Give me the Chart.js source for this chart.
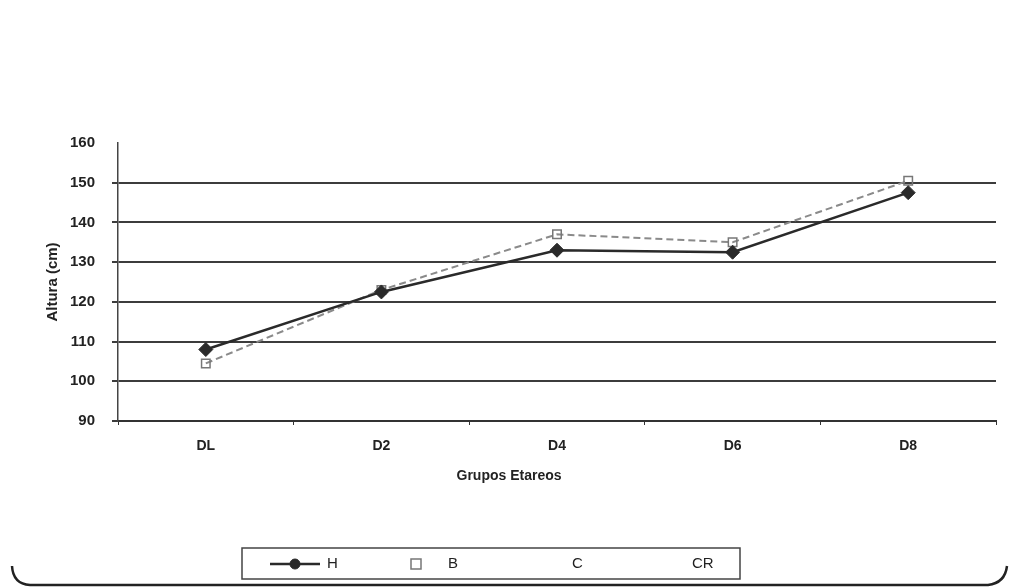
<!DOCTYPE html>
<html>
<head>
<meta charset="utf-8">
<script src="https://cdn.jsdelivr.net/npm/chart.js@4"></script>
<style>
  html, body { margin: 0; padding: 0; background: #ffffff; }
  #wrap { width: 1010px; height: 587px; position: relative; }
</style>
</head>
<body>
<div id="wrap"><canvas id="c" width="1010" height="587"></canvas></div>
<script>
// ---- data ----
const categories = ['DL', 'D2', 'D4', 'D6', 'D8'];
const seriesH = [108, 122.5, 133, 132.5, 147.5];
const seriesB = [104.5, 123, 137, 135, 150.5];
const seriesC = [];
const seriesCR = [];
const seriesLabels = ['H', 'B', 'C', 'CR'];
const yTicks = [90, 100, 110, 120, 130, 140, 150, 160];
const yTitle = 'Altura (cm)';
const xTitle = 'Grupos Etareos';

const FONT = '"Liberation Sans", Arial, sans-serif';

const frame = {
  id: 'frame',
  afterDraw(chart) {
    const ctx = chart.ctx;
    ctx.save();
    ctx.strokeStyle = '#222';
    ctx.lineWidth = 2.5;
    ctx.beginPath();
    ctx.moveTo(12, 566);
    ctx.quadraticCurveTo(13, 584, 30, 585);
    ctx.lineTo(988, 585);
    ctx.quadraticCurveTo(1005, 583, 1007, 566);
    ctx.stroke();
    ctx.restore();
  }
};

const xTitlePlugin = {
  id: 'xTitlePlugin',
  afterDraw(chart) {
    const ctx = chart.ctx;
    ctx.save();
    ctx.font = 'bold 14px ' + FONT;
    ctx.fillStyle = '#222';
    ctx.textAlign = 'center';
    ctx.textBaseline = 'middle';
    ctx.fillText(xTitle, 509, 476);
    ctx.restore();
  }
};

const legendBox = {
  id: 'legendBox',
  afterDraw(chart) {
    const ctx = chart.ctx;
    ctx.save();
    ctx.strokeStyle = '#444';
    ctx.lineWidth = 1.5;
    ctx.strokeRect(242, 548, 498, 31);
    const textX = [327, 448, 572, 692];
    const cy = 564;
    chart.data.datasets.forEach((ds, i) => {
      const tx = textX[i];
      const sx0 = tx - 57, sx1 = tx - 7, mx = (sx0 + sx1) / 2;
      if (ds.showLegendLine) {
        ctx.strokeStyle = ds.borderColor;
        ctx.lineWidth = ds.borderWidth;
        ctx.setLineDash(ds.borderDash || []);
        ctx.beginPath();
        ctx.moveTo(sx0, cy);
        ctx.lineTo(sx1, cy);
        ctx.stroke();
        ctx.setLineDash([]);
      }
      if (ds.showLegendMarker) {
        ctx.fillStyle = ds.pointBackgroundColor;
        ctx.strokeStyle = ds.pointBorderColor;
        ctx.lineWidth = ds.pointBorderWidth;
        ctx.beginPath();
        if (ds.pointStyle === 'rectRot') {
          ctx.arc(mx, cy, 5, 0, Math.PI * 2);
        } else {
          ctx.rect(mx - 5, cy - 5, 10, 10);
        }
        ctx.fill();
        ctx.stroke();
      }
      ctx.font = '15px ' + FONT;
      ctx.fillStyle = '#222';
      ctx.textAlign = 'left';
      ctx.textBaseline = 'middle';
      ctx.fillText(ds.label, tx, cy);
    });
    ctx.restore();
  }
};

new Chart(document.getElementById('c'), {
  type: 'line',
  data: {
    labels: categories,
    datasets: [
      {
        label: seriesLabels[0], data: seriesH,
        borderColor: '#2a2a2a', borderWidth: 2.5,
        pointStyle: 'rectRot', pointRadius: 7,
        pointBackgroundColor: '#2a2a2a', pointBorderColor: '#2a2a2a', pointBorderWidth: 1,
        showLegendLine: true, showLegendMarker: true
      },
      {
        label: seriesLabels[1], data: seriesB,
        borderColor: '#8a8a8a', borderWidth: 2, borderDash: [7, 4],
        pointStyle: 'rect', pointRadius: 6,
        pointBackgroundColor: 'rgba(255,255,255,0)', pointBorderColor: '#777', pointBorderWidth: 1.5,
        showLegendLine: false, showLegendMarker: true
      },
      {
        label: seriesLabels[2], data: seriesC,
        borderColor: 'rgba(0,0,0,0)', borderWidth: 1, pointRadius: 0,
        pointBackgroundColor: 'rgba(0,0,0,0)', pointBorderColor: 'rgba(0,0,0,0)', pointBorderWidth: 0,
        showLegendLine: false, showLegendMarker: false
      },
      {
        label: seriesLabels[3], data: seriesCR,
        borderColor: 'rgba(0,0,0,0)', borderWidth: 1, pointRadius: 0,
        pointBackgroundColor: 'rgba(0,0,0,0)', pointBorderColor: 'rgba(0,0,0,0)', pointBorderWidth: 0,
        showLegendLine: false, showLegendMarker: false
      }
    ]
  },
  options: {
    responsive: false,
    animation: false,
    devicePixelRatio: 1,
    layout: { padding: { left: 40, right: 14, top: 143, bottom: 100 } },
    plugins: {
      legend: { display: false },
      tooltip: { enabled: false },
      title: { display: false }
    },
    elements: { line: { tension: 0 } },
    scales: {
      x: {
        type: 'category',
        offset: true,
        grid: { display: true, drawOnChartArea: false, drawTicks: true, tickLength: 4, offset: true, color: '#333', lineWidth: 1 },
        border: { display: true, color: '#333', width: 2 },
        ticks: { color: '#222', font: { family: FONT, size: 14, weight: 'bold' }, padding: 13 },
        afterFit(scale) { scale.height = 66; }
      },
      y: {
        min: yTicks[0], max: yTicks[yTicks.length - 1],
        afterBuildTicks(scale) { scale.ticks = yTicks.map(v => ({ value: v })); },
        grid: {
          color: ctx => (ctx.tick && ctx.tick.value === 160) ? 'rgba(0,0,0,0)' : '#3c3c3c',
          lineWidth: 2, tickLength: 6, drawTicks: true
        },
        border: { display: true, color: '#444', width: 1.5 },
        ticks: { color: '#222', font: { family: FONT, size: 15, weight: 'bold' }, padding: 17 },
        title: { display: true, text: yTitle, color: '#222', font: { family: FONT, size: 15, weight: 'bold' }, padding: { top: 4, bottom: 0 } },
        afterFit(scale) { scale.width = 78; }
      }
    }
  },
  plugins: [frame, xTitlePlugin, legendBox]
});
</script>
</body>
</html>
